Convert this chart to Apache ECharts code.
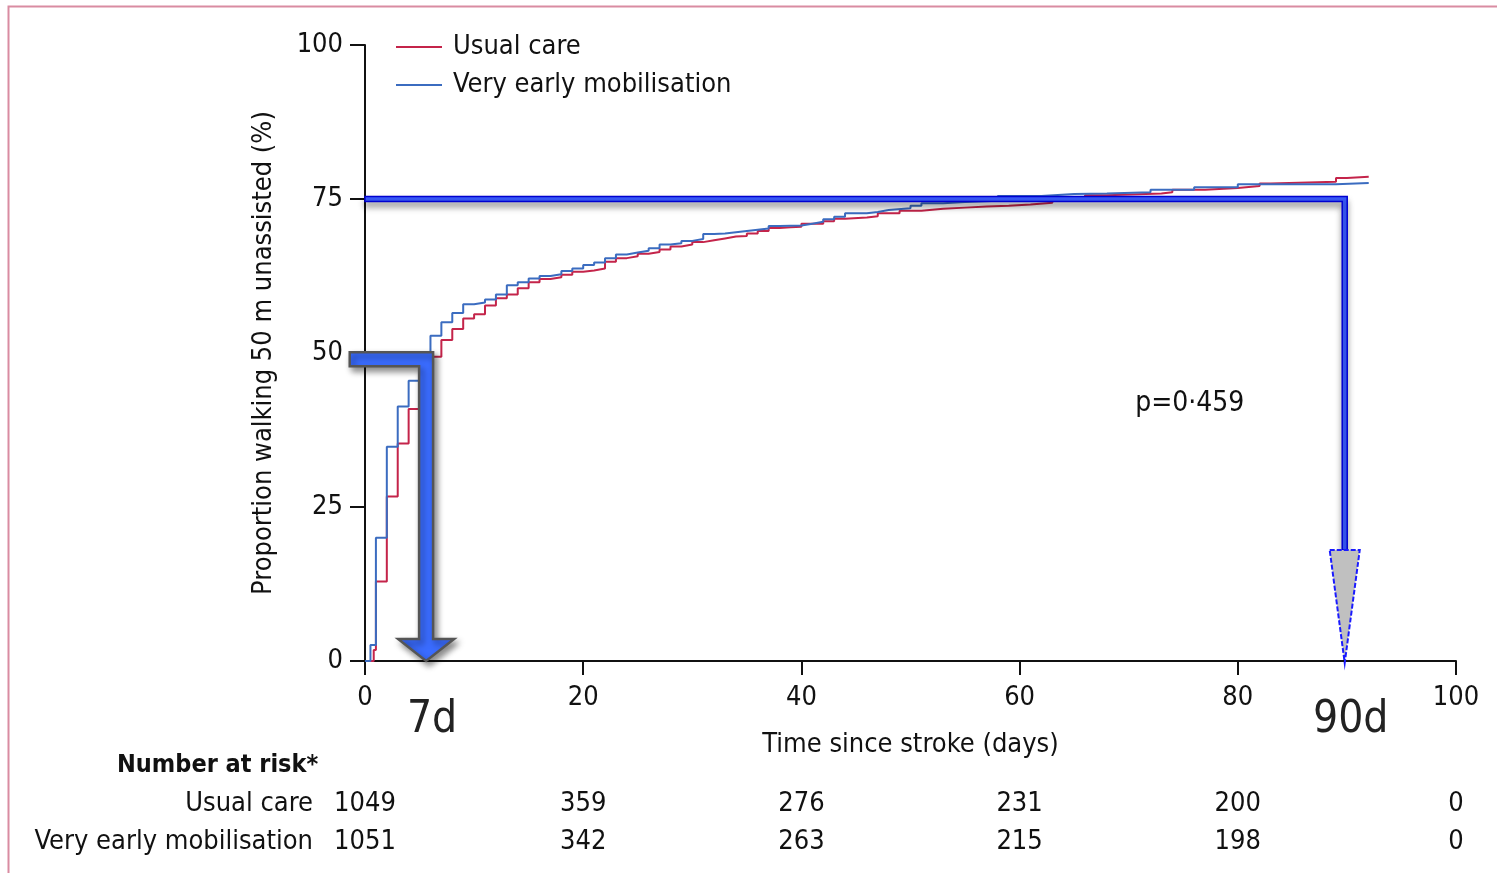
<!DOCTYPE html>
<html>
<head>
<meta charset="utf-8">
<title>Walking 50 m unassisted</title>
<script src="https://cdn.jsdelivr.net/npm/echarts@6/dist/echarts.min.js"></script>
<style>
  html, body { margin: 0; padding: 0; background: #fff; }
  #chart { width: 1497px; height: 873px; }
</style>
</head>
<body>
<div id="chart"></div>
<script>
// values
const usualDays = [0, 0.8, 1, 2, 3, 4, 5, 6, 7, 8, 9, 10, 11, 12, 13, 14, 15, 16, 17, 18, 19, 20, 21, 22, 23, 24, 25, 26, 27, 28, 29, 30, 31, 32, 33, 34, 35, 36, 37, 38, 39, 40, 42, 43, 44, 46, 47, 49, 51, 53, 55, 57, 59, 61, 63, 64, 66, 68, 73, 74, 77, 80, 82, 83, 89, 90, 92];
const usualPct = [0, 1.8, 12.9, 26.7, 35.3, 40.9, 45.5, 49.4, 52.1, 53.9, 55.6, 56.3, 57.7, 58.9, 59.5, 60.5, 61.5, 62.0, 62.3, 62.7, 63.2, 63.4, 63.7, 64.8, 65.4, 65.7, 66.1, 66.4, 66.8, 67.3, 67.6, 68.0, 68.3, 68.6, 68.9, 69.0, 69.4, 69.8, 70.3, 70.4, 70.5, 71.0, 71.4, 71.8, 72.0, 72.2, 72.7, 73.1, 73.4, 73.6, 73.8, 73.9, 74.1, 74.4, 74.8, 75.2, 75.6, 75.9, 76.1, 76.5, 76.8, 77.1, 77.5, 77.8, 78.4, 78.6, 78.6];

const earlyDays = [0, 0.5, 1, 2, 3, 4, 5, 6, 7, 8, 9, 10, 11, 12, 13, 14, 15, 16, 17, 18, 19, 20, 21, 22, 23, 24, 25, 26, 27, 28, 29, 30, 31, 32, 33, 34, 35, 36, 37, 38, 40, 41, 42, 43, 44, 46, 47, 48, 50, 51, 53, 55, 58, 62, 65, 68, 72, 76, 80, 89, 92];
const earlyPct = [0, 2.6, 20, 34.8, 41.3, 45.5, 49.5, 52.8, 55.0, 56.5, 57.9, 58.2, 58.7, 59.5, 61.0, 61.5, 62.1, 62.5, 62.8, 63.3, 63.7, 64.3, 64.7, 65.4, 66.0, 66.3, 66.6, 67.0, 67.6, 67.8, 68.2, 68.5, 69.3, 69.4, 69.6, 69.8, 70.0, 70.2, 70.6, 70.7, 71.0, 71.3, 71.7, 72.1, 72.7, 72.9, 73.2, 73.5, 73.9, 74.3, 74.5, 74.7, 75.5, 75.8, 75.9, 76.1, 76.5, 76.9, 77.4, 77.6, 77.6];

const riskTicks = [0, 20, 40, 60, 80, 100];
const riskUsual = [1049, 359, 276, 231, 200, 0];
const riskEarly = [1051, 342, 263, 215, 198, 0];

// annotations drawn over the plot
const noteDays = [5.6, 89.8];
const noteLevels = [49, 75];
const noteLabels = ['7d', '90d'];
const pText = 'p=0·459';

const FONT = '"Liberation Sans Narrow", "DejaVu Sans Condensed", sans-serif';
const RED = '#c4244a';
const BLUE = '#3b6cc0';

function zip(xs, ys) {
  return xs.map((x, i) => [x, ys[i]]);
}

function riskLabel(list) {
  return v => {
    const i = riskTicks.indexOf(v);
    return i < 0 ? '' : String(list[i]);
  };
}

function renderNotes(params, api) {
  const i = params.dataIndex;
  const e = api.coord([noteDays[i], noteLevels[i]]);
  const base = api.coord([noteDays[i], 0]);
  const kids = [];
  if (i === 0) {
    const s = api.coord([-1.4, noteLevels[i]]);
    const w = 7, hw = 28, hl = 22;
    kids.push({
      type: 'polygon',
      shape: {
        points: [
          [s[0], e[1] - w], [e[0] + w, e[1] - w], [e[0] + w, base[1] - hl],
          [e[0] + hw, base[1] - hl], [e[0], base[1]], [e[0] - hw, base[1] - hl],
          [e[0] - w, base[1] - hl], [e[0] - w, e[1] + w], [s[0], e[1] + w]
        ]
      },
      style: {
        fill: '#3a6cff', stroke: '#555', lineWidth: 2.5,
        shadowColor: 'rgba(0,0,0,0.45)', shadowBlur: 6, shadowOffsetX: 3, shadowOffsetY: 4
      }
    });
  } else {
    const s = api.coord([0, noteLevels[i]]);
    const w = 2.5, hw = 15, headTop = api.coord([noteDays[i], 18])[1];
    kids.push({
      type: 'polygon',
      shape: {
        points: [
          [s[0], e[1] - w], [e[0] + w, e[1] - w], [e[0] + w, headTop],
          [e[0] - w, headTop], [e[0] - w, e[1] + w], [s[0], e[1] + w]
        ]
      },
      style: {
        fill: '#3a5cff', stroke: '#0000d0', lineWidth: 1.5,
        shadowColor: 'rgba(0,0,0,0.35)', shadowBlur: 6, shadowOffsetY: 5
      }
    });
    kids.push({
      type: 'polygon',
      shape: { points: [[e[0] - hw, headTop], [e[0] + hw, headTop], [e[0], base[1] + 2]] },
      style: { fill: '#c0c0c0', stroke: '#1a1aff', lineWidth: 2, lineDash: [5, 2] }
    });
  }
  kids.push({
    type: 'text',
    style: {
      text: noteLabels[i], x: e[0] + 6, y: base[1] + 60,
      font: '44px ' + FONT, fill: '#222', align: 'center', verticalAlign: 'middle'
    }
  });
  if (i === 1) {
    const p = api.coord([75.6, 42]);
    kids.push({
      type: 'text',
      style: {
        text: pText, x: p[0], y: p[1] + 1, font: '28px ' + FONT,
        fill: '#111', align: 'center', verticalAlign: 'middle'
      }
    });
  }
  return { type: 'group', children: kids };
}

const chart = echarts.init(document.getElementById('chart'));

const riskAxis = (name, offset, list) => ({
  type: 'value', min: 0, max: 100, interval: 20, position: 'bottom', offset: offset,
  axisLine: { show: false }, axisTick: { show: false }, splitLine: { show: false },
  axisLabel: {
    margin: 0, verticalAlign: 'middle', fontSize: 27, color: '#111', fontFamily: FONT,
    showMinLabel: true, showMaxLabel: true, formatter: riskLabel(list)
  },
  name: name, nameLocation: 'start', nameGap: 52,
  nameTextStyle: { fontSize: 27, color: '#111', fontFamily: FONT }
});

const option = {
  animation: false,
  backgroundColor: '#fff',
  textStyle: { fontFamily: FONT },
  title: {
    text: 'Number at risk*', left: 112, top: 748,
    textStyle: { fontSize: 25, fontWeight: 'bold', color: '#111', fontFamily: FONT }
  },
  legend: {
    orient: 'vertical', left: 396, top: 33, padding: 0, itemGap: 10,
    itemWidth: 46, itemHeight: 2, icon: 'rect',
    textStyle: { fontSize: 27, color: '#111', lineHeight: 28, padding: [0, 0, 0, 6], fontFamily: FONT },
    data: ['Usual care', 'Very early mobilisation']
  },
  graphic: [{
    type: 'rect', left: 6, top: 4, z: -10,
    shape: { width: 1500, height: 880 },
    style: { fill: 'none', stroke: '#d98ca2', lineWidth: 2 }
  }],
  grid: { left: 365, right: 41, top: 45, bottom: 212 },
  xAxis: [
    {
      type: 'value', min: 0, max: 100, interval: 20,
      axisLine: { lineStyle: { color: '#111', width: 2 } },
      axisTick: { length: 14, lineStyle: { color: '#111', width: 2 } },
      splitLine: { show: false },
      axisLabel: { margin: 23, fontSize: 27, color: '#111', fontFamily: FONT },
      name: 'Time since stroke (days)', nameLocation: 'middle', nameGap: 70,
      nameTextStyle: { fontSize: 27, color: '#111', fontFamily: FONT }
    },
    riskAxis('Usual care', 143, riskUsual),
    riskAxis('Very early mobilisation', 181, riskEarly)
  ],
  yAxis: {
    type: 'value', min: 0, max: 100, interval: 25,
    axisLine: { show: true, lineStyle: { color: '#111', width: 2 } },
    axisTick: { show: true, length: 15, lineStyle: { color: '#111', width: 2 } },
    splitLine: { show: false },
    axisLabel: { margin: 22, fontSize: 27, color: '#111', fontFamily: FONT },
    name: 'Proportion walking 50 m unassisted (%)', nameLocation: 'middle', nameGap: 88,
    nameTextStyle: { fontSize: 27, color: '#111', fontFamily: FONT }
  },
  series: [
    {
      name: 'Usual care', type: 'line', step: 'end', showSymbol: false, symbol: 'none',
      color: RED, lineStyle: { width: 2, color: RED },
      data: zip(usualDays, usualPct), z: 3
    },
    {
      name: 'Very early mobilisation', type: 'line', step: 'end', showSymbol: false, symbol: 'none',
      color: BLUE, lineStyle: { width: 2, color: BLUE },
      data: zip(earlyDays, earlyPct), z: 3
    },
    {
      type: 'custom', name: 'notes', renderItem: renderNotes, clip: false, z: 10,
      silent: true,
      data: zip(noteDays, noteLevels)
    }
  ]
};

chart.setOption(option);
</script>
</body>
</html>
